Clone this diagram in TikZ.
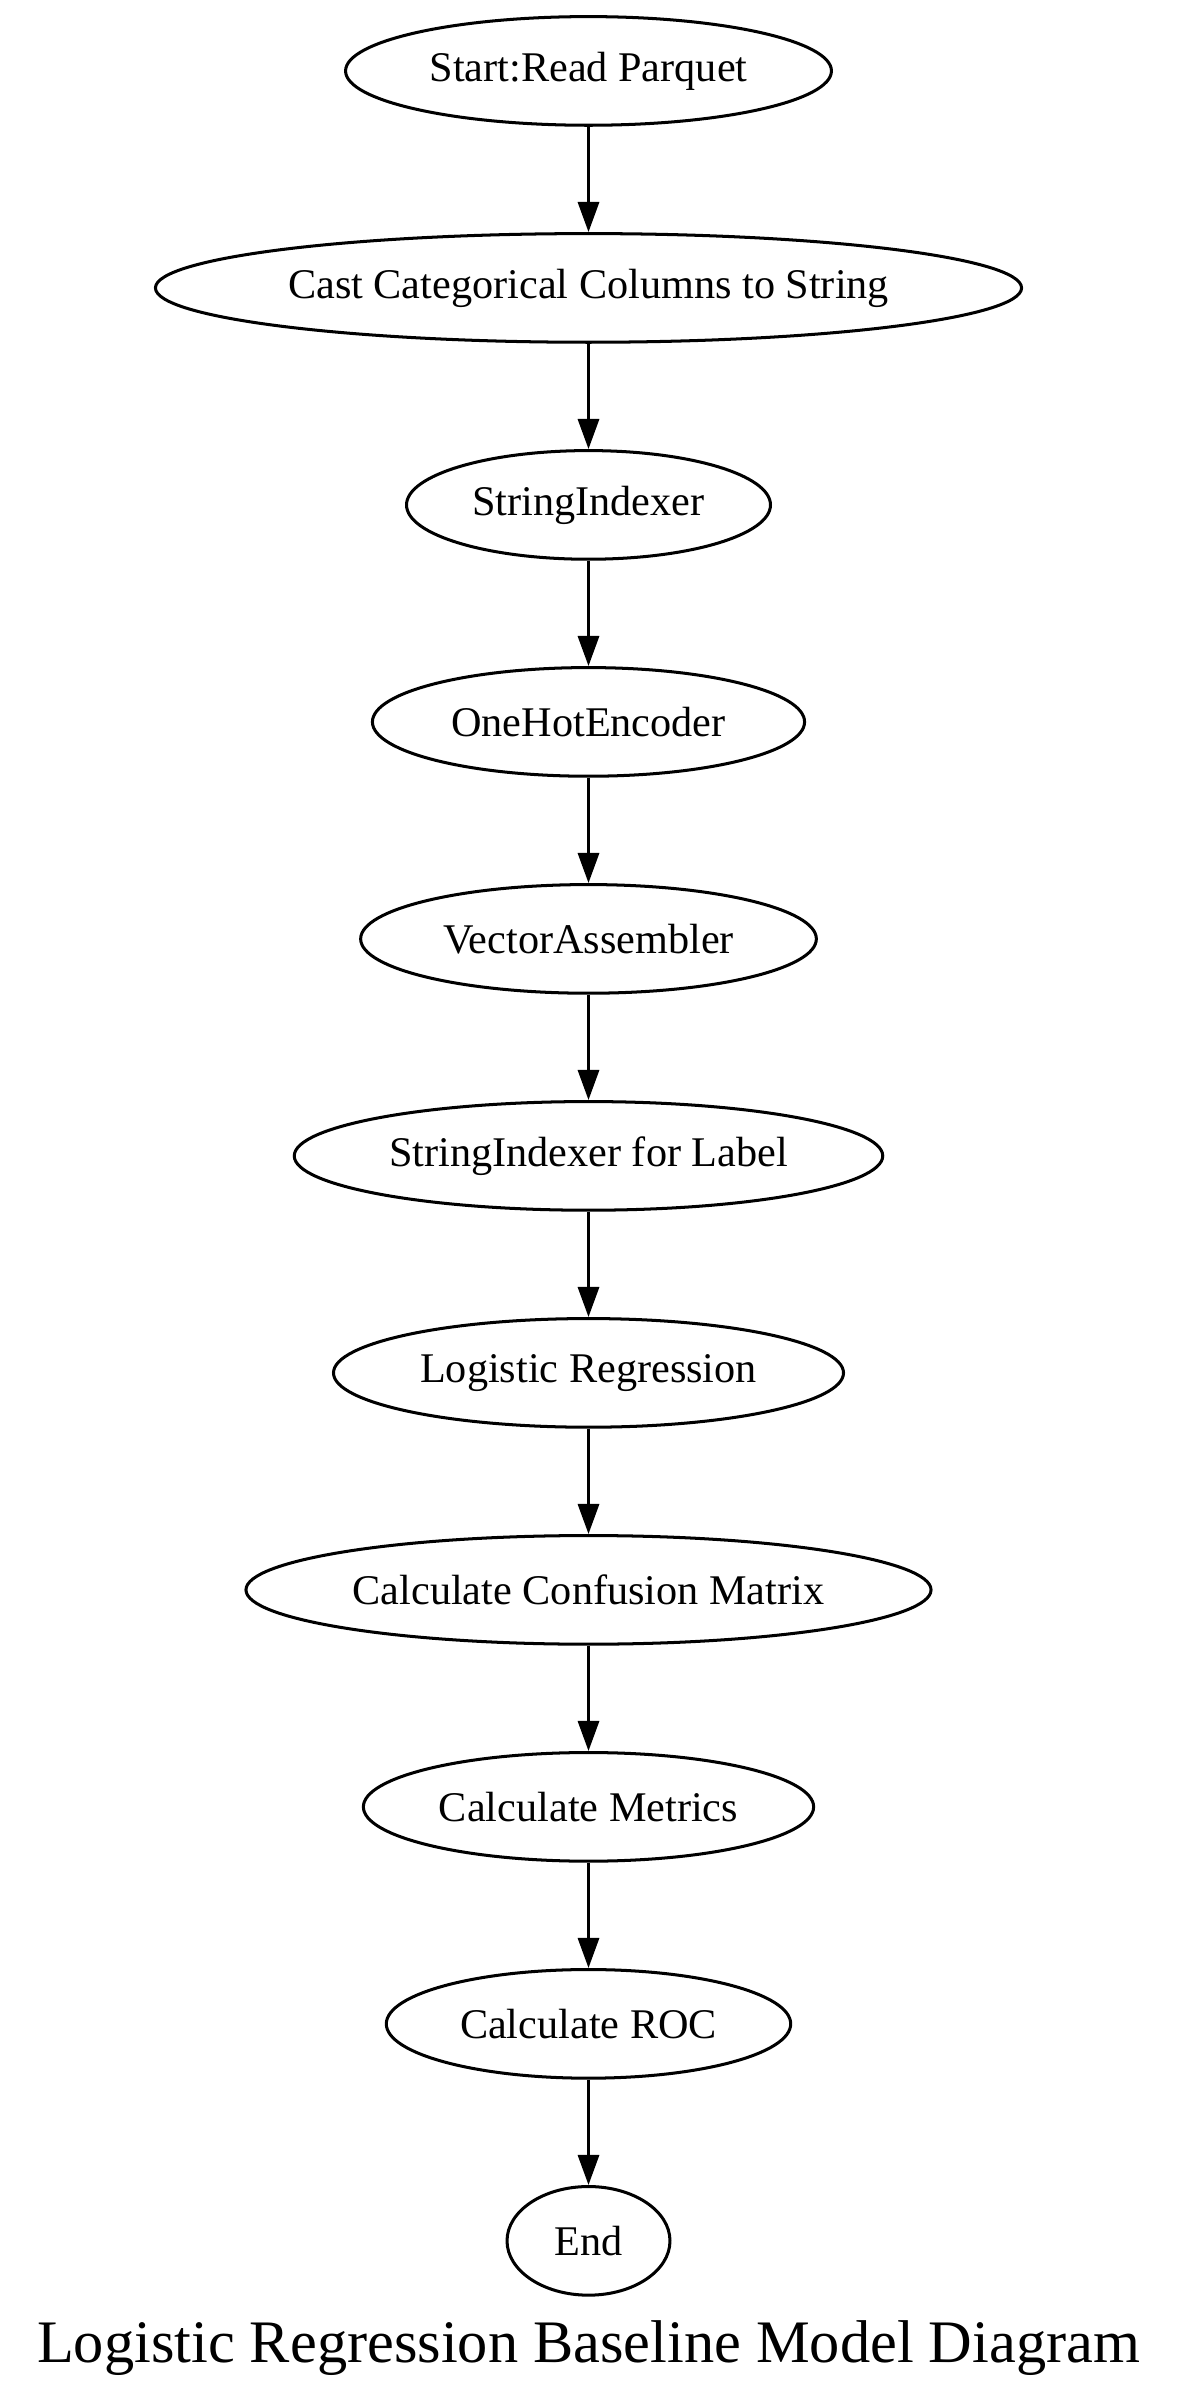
\documentclass[tikz,border=0pt]{standalone}
\usepackage{fontspec}
\setmainfont{Liberation Serif}
\usetikzlibrary{arrows.meta,shapes.geometric}
\begin{document}
\begin{tikzpicture}[x=1pt,y=1pt,
  proc/.style={draw=black,line width=1pt,ellipse,inner sep=0pt,minimum height=36pt,font=\fontsize{14}{16}\selectfont},
  flow/.style={draw=black,line width=1pt,-{Triangle[length=10pt,width=7pt]}}]
\useasboundingbox (0,0) rectangle (390,-795.24);
\node[proc,minimum width=161pt] (n1) at (195,-23.5) {Start:Read Parquet};
\node[proc,minimum width=287pt] (n2) at (195,-95.4) {Cast Categorical Columns to String};
\node[proc,minimum width=120.6pt] (n3) at (195,-167.3) {StringIndexer};
\node[proc,minimum width=143.2pt] (n4) at (195,-239.2) {OneHotEncoder};
\node[proc,minimum width=151pt] (n5) at (195,-311.1) {VectorAssembler};
\node[proc,minimum width=195pt] (n6) at (195,-383) {StringIndexer for Label};
\node[proc,minimum width=169pt] (n7) at (195,-454.9) {Logistic Regression};
\node[proc,minimum width=227pt] (n8) at (195,-526.8) {Calculate Confusion Matrix};
\node[proc,minimum width=149.2pt] (n9) at (195,-598.7) {Calculate Metrics};
\node[proc,minimum width=134pt] (n10) at (195,-670.6) {Calculate ROC};
\node[proc,minimum width=54pt] (n11) at (195,-742.5) {End};
\node[font=\fontsize{20}{24}\selectfont,inner sep=0pt] (title) at (195,-778) {Logistic Regression Baseline Model Diagram};
\draw[flow] (n1) -- (n2);
\draw[flow] (n2) -- (n3);
\draw[flow] (n3) -- (n4);
\draw[flow] (n4) -- (n5);
\draw[flow] (n5) -- (n6);
\draw[flow] (n6) -- (n7);
\draw[flow] (n7) -- (n8);
\draw[flow] (n8) -- (n9);
\draw[flow] (n9) -- (n10);
\draw[flow] (n10) -- (n11);
\end{tikzpicture}
\end{document}
